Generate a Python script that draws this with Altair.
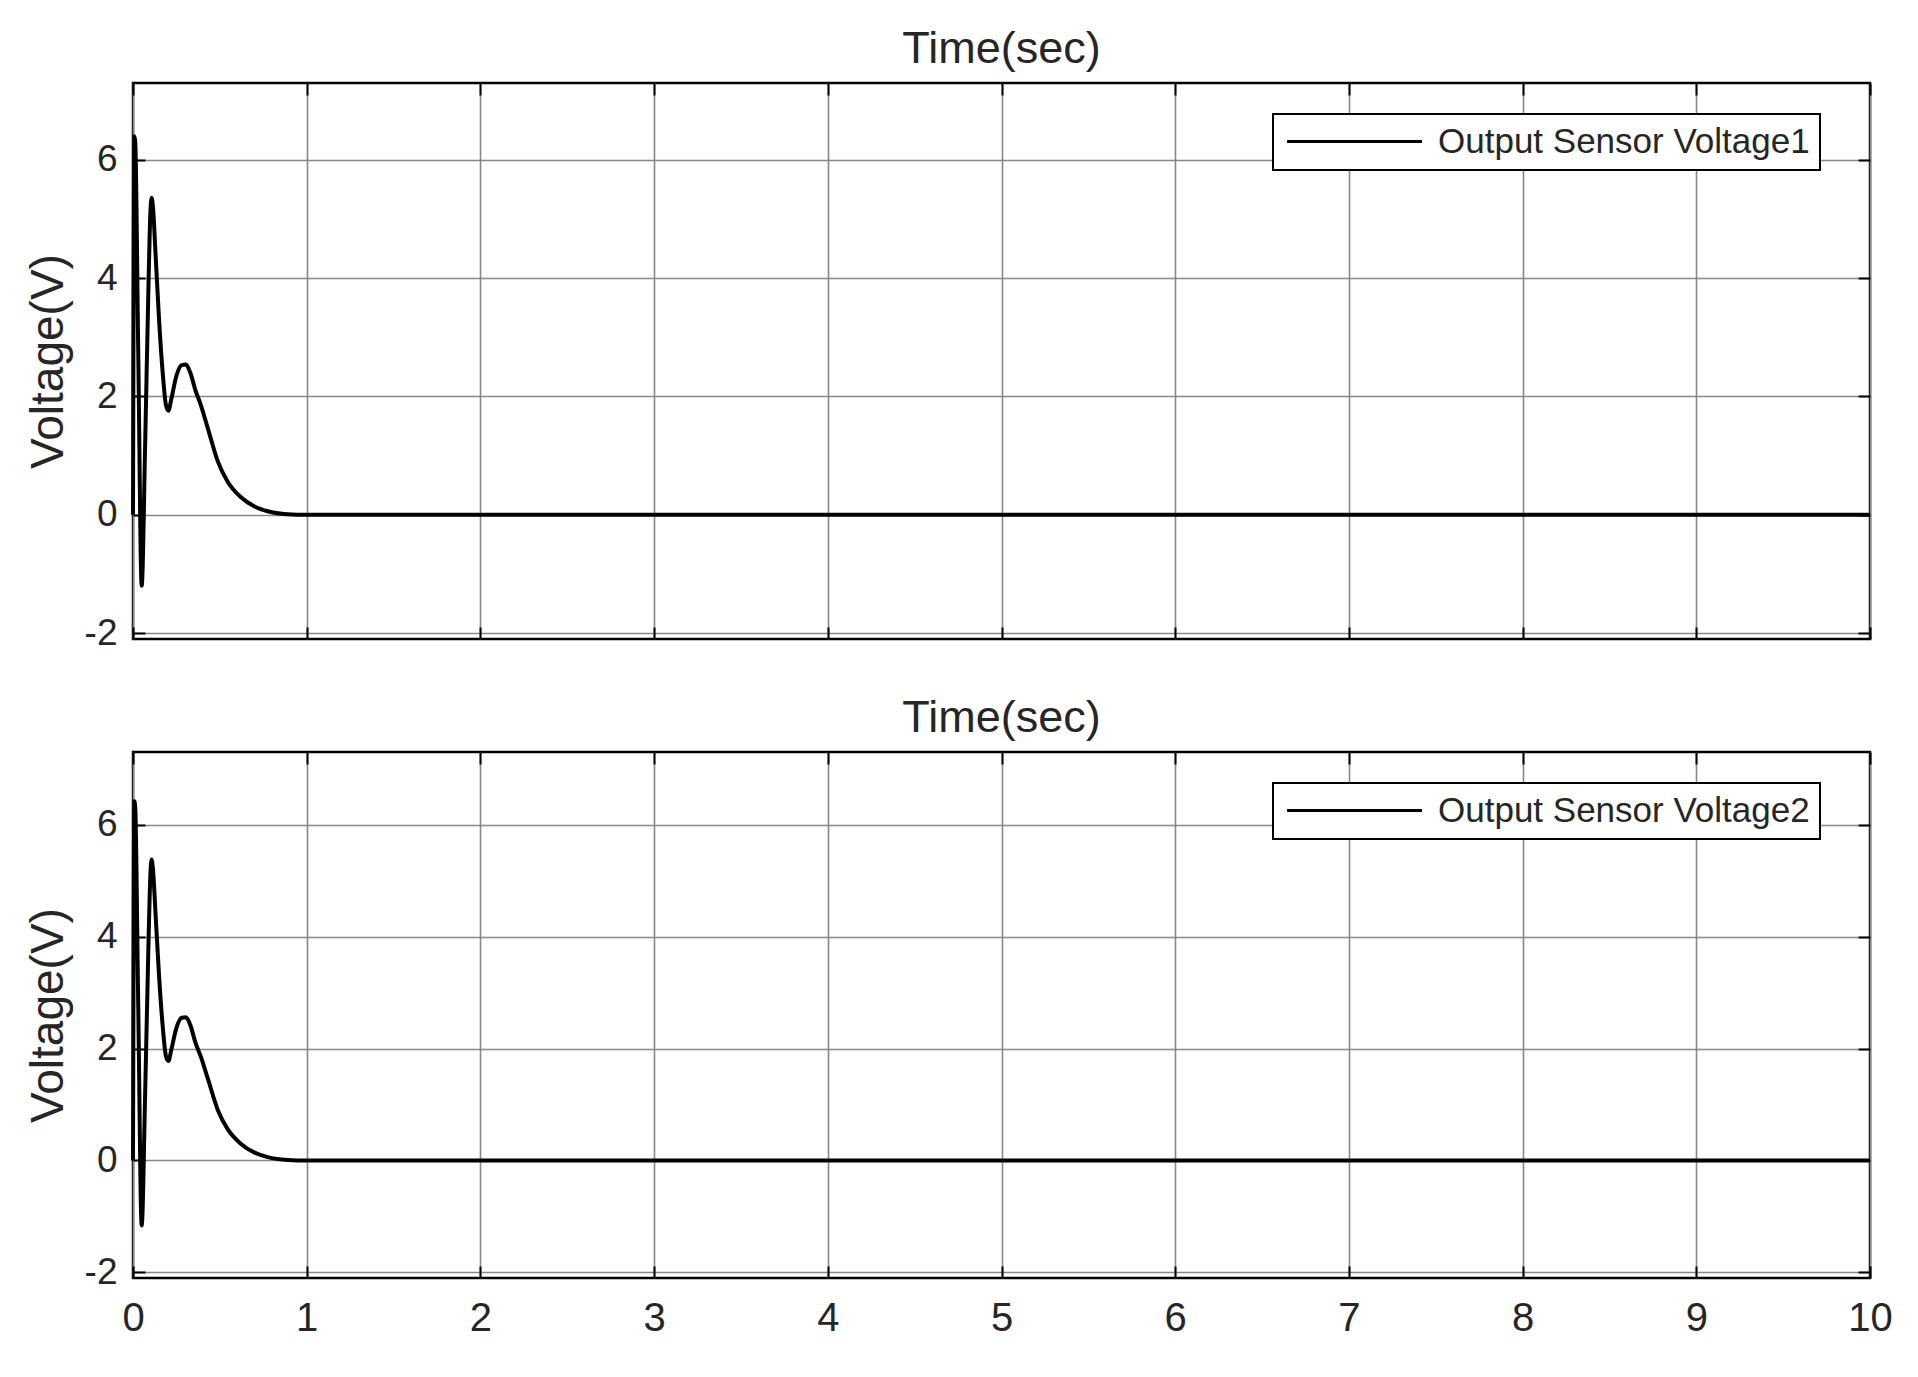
import altair as alt
import pandas as pd

# ---- data ----
time_s = [0.0, 0.008, 0.013, 0.03, 0.05, 0.07, 0.09, 0.1, 0.107, 0.115, 0.13, 0.15,
          0.171, 0.19, 0.204, 0.22, 0.25, 0.28, 0.305, 0.33, 0.36, 0.39, 0.43, 0.49,
          0.545, 0.62, 0.70, 0.775, 0.89, 1.0, 10.0]
voltage1 = [0.0, 6.4, 6.3, 2.8, -1.2, 1.2, 4.0, 5.1, 5.36, 5.2, 4.4, 3.3,
            2.4, 1.85, 1.76, 1.95, 2.35, 2.53, 2.54, 2.4, 2.1, 1.86, 1.47, 0.89,
            0.56, 0.30, 0.14, 0.06, 0.01, 0.0, 0.0]
voltage2 = [0.0, 6.42, 6.3, 2.8, -1.16, 1.2, 4.0, 5.1, 5.38, 5.2, 4.4, 3.3,
            2.4, 1.86, 1.78, 1.97, 2.37, 2.55, 2.56, 2.42, 2.1, 1.86, 1.47, 0.89,
            0.56, 0.30, 0.14, 0.06, 0.01, 0.0, 0.0]
series1 = "Output Sensor Voltage1"
series2 = "Output Sensor Voltage2"
panel_title = "Time(sec)"
y_title = "Voltage(V)"
x_ticks = [0, 1, 2, 3, 4, 5, 6, 7, 8, 9, 10]
y_ticks = [-2, 0, 2, 4, 6]
x_domain = [0, 10]
y_domain = [-2.1, 7.3]

FONT = "Liberation Sans"
TXT = "#262626"
TICK = 12
W = 1737


def tick_axis(orient, vals, offset):
    return alt.Axis(orient=orient, values=vals, offset=offset, tickSize=TICK,
                    labels=False, domain=False, grid=False, title=None,
                    tickColor="black", tickWidth=2)


def panel(values, name, height, show_x_labels):
    df = pd.DataFrame({"t": time_s, "v": values, "series": name})
    xs = alt.Scale(domain=x_domain, nice=False, zero=False)
    ys = alt.Scale(domain=y_domain, nice=False, zero=False)
    base = alt.Chart(df)

    main = base.mark_line(strokeWidth=4, interpolate="monotone").encode(
        x=alt.X("t:Q", scale=xs, axis=alt.Axis(
            orient="bottom", values=x_ticks, grid=True, labels=show_x_labels,
            ticks=False, domain=False, title=None, labelExpr="toString(datum.value)",
            labelFlush=False,
            labelFontSize=40, labelFont=FONT, labelColor=TXT, labelPadding=20,
            gridColor="#888888", gridWidth=1.6, gridOpacity=1)),
        y=alt.Y("v:Q", scale=ys, axis=alt.Axis(
            orient="left", values=y_ticks, grid=True, ticks=False, domain=False,
            title=y_title, titleFontSize=46, titleFont=FONT, titleColor=TXT,
            titleFontWeight="normal", titlePadding=12,
            labelFontSize=37, labelFont=FONT, labelColor=TXT, labelPadding=16,
            labelExpr="toString(datum.value)", labelFlush=False,
            gridColor="#888888", gridWidth=1.6, gridOpacity=1)),
        color=alt.Color("series:N", scale=alt.Scale(domain=[name], range=["black"]),
                        legend=alt.Legend(
                            title=None, orient="none", legendX=1140, legendY=31,
                            strokeColor="black", fillColor="white",
                            padding=10, cornerRadius=0, labelLimit=1000,
                            labelFont=FONT, labelFontSize=35, labelColor=TXT,
                            labelOffset=120, symbolType="M-1,0H9",
                            symbolSize=729, symbolStrokeWidth=3)),
    )

    # inside tick marks on all four sides (axes pulled into the plot)
    ticks_a = base.mark_line(opacity=0).encode(
        x=alt.X("t:Q", scale=xs, axis=tick_axis("bottom", x_ticks, -TICK)),
        y=alt.Y("v:Q", scale=ys, axis=tick_axis("left", y_ticks, -TICK)),
    )
    ticks_b = base.mark_line(opacity=0).encode(
        x=alt.X("t:Q", scale=xs, axis=tick_axis("bottom", x_ticks, -height)),
        y=alt.Y("v:Q", scale=ys, axis=tick_axis("left", y_ticks, -W)),
    )

    return alt.layer(main, ticks_a, ticks_b).resolve_axis(
        x="independent", y="independent"
    ).properties(
        width=W, height=height,
        title=alt.TitleParams(panel_title, fontSize=45, font=FONT, fontWeight="normal",
                              color=TXT, anchor="middle", baseline="alphabetic",
                              offset=-26),
    )


def build(legend_stroke):
    top = panel(voltage1, series1, 556, False)
    bottom = panel(voltage2, series2, 526, True)
    ch = alt.vconcat(top, bottom, spacing=41).resolve_scale(
        color="independent"
    ).properties(
        padding={"left": 15, "top": 17, "right": 5, "bottom": 5},
        background="white",
    ).configure_view(
        stroke="black", strokeWidth=2.5
    )
    if legend_stroke:
        ch = ch.configure_legend(strokeWidth=2)
    return ch


try:
    chart = build(True)
    chart.save("out.html", embed_options={"renderer": "svg", "actions": False})
except Exception:
    chart = build(False)
    chart.save("out.html", embed_options={"renderer": "svg", "actions": False})
